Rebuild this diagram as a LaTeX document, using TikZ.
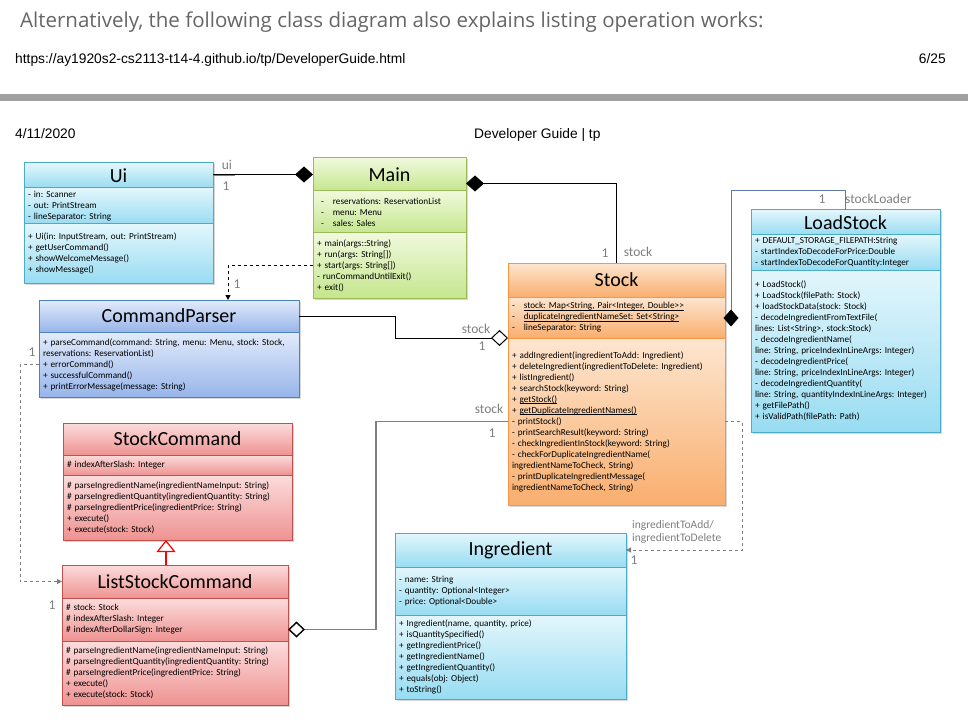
\documentclass[tikz,border=0pt]{standalone}
\usepackage{fontspec}
\setmainfont{Carlito}
\newfontfamily\headfont{Open Sans}
\newfontfamily\pagefont{Liberation Sans}
\usepackage{xcolor}
\usetikzlibrary{arrows.meta,positioning,calc,shadows}
\frenchspacing
\newcommand\uln[1]{\leavevmode\setbox0=\hbox{#1}\rlap{\rule[-1.6pt]{\wd0}{0.5pt}}\box0}

\definecolor{aqualine}{HTML}{4BACC6}
\definecolor{aquatop}{HTML}{E3F6FC}
\definecolor{aquabot}{HTML}{98DCF2}
\definecolor{greenline}{HTML}{9BBB59}
\definecolor{greentop}{HTML}{F0F9DC}
\definecolor{greenbot}{HTML}{C5E68E}
\definecolor{blueline}{HTML}{4F81BD}
\definecolor{bluetop}{HTML}{E2EBFA}
\definecolor{bluebot}{HTML}{97B5EA}
\definecolor{orangeline}{HTML}{F79646}
\definecolor{orangetop}{HTML}{FDE6D0}
\definecolor{orangebot}{HTML}{F9AE6E}
\definecolor{redline}{HTML}{C0504D}
\definecolor{redtop}{HTML}{FCDCDC}
\definecolor{redbot}{HTML}{EE9392}
\definecolor{lblgray}{HTML}{7F7F7F}
\definecolor{headgray}{HTML}{666666}
\definecolor{bargray}{HTML}{A0A0A0}
\definecolor{loaderline}{HTML}{5B7BA6}

\begin{document}
\begin{tikzpicture}[x=1pt, y=-1pt,
    box/.style={draw, rectangle, line width=1pt, outer sep=0pt, anchor=north west, inner xsep=4pt, inner ysep=1pt,
        drop shadow={shadow xshift=1.5pt, shadow yshift=-1.5pt, opacity=0.3}},
    title/.style={box, align=center, font=\fontsize{20}{24}\selectfont},
    body/.style={box, align=left, text width=#1, font=\fontsize{9.2}{11}\selectfont},
    aqua/.style={draw=aqualine, top color=aquatop, bottom color=aquabot},
    lime/.style={draw=greenline, top color=greentop, bottom color=greenbot},
    azure/.style={draw=blueline, top color=bluetop, bottom color=bluebot},
    amber/.style={draw=orangeline, top color=orangetop, bottom color=orangebot},
    rose/.style={draw=redline, top color=redtop, bottom color=redbot},
    compo/.style={{Diamond[color=black,length=18pt,width=16pt]}-, line width=1pt},
    aggr/.style={{Diamond[open,fill=white,color=black,length=17pt,width=16pt]}-, line width=1pt},
    dep/.style={-{Triangle[length=5pt,width=5pt]}, dashed, line width=1pt},
    inherit/.style={-{Triangle[open,fill=white,length=12pt,width=19pt]}, red, line width=1.2pt},
    lbl/.style={text=lblgray, inner sep=0pt, font=\fontsize{13.5}{14}\selectfont},
    page/.style={inner sep=0pt, font=\pagefont\fontsize{13.8}{16}\selectfont}]

    \fill[white] (0,0) rectangle (968,727);
    \useasboundingbox (0,0) rectangle (968,727);

    % Page header
    \node[anchor=base west, inner sep=0pt, text=headgray, font=\headfont\fontsize{20.5}{24}\selectfont] (headline) at (20,28) {Alternatively, the following class diagram also explains listing operation works:};
    \node[page, anchor=base west] (url) at (15,64) {https://ay1920s2-cs2113-t14-4.github.io/tp/DeveloperGuide.html};
    \node[page, anchor=base east] (pageno) at (946,64) {6/25};
    \fill[bargray] (0,94) rectangle (968,101);
    \node[page, anchor=base west] (date) at (15,139) {4/11/2020};
    \node[page, anchor=base west] (doctitle) at (474,139) {Developer Guide | tp};

    % Ui
    \node[title, aqua, minimum width=189, minimum height=25] (uititle) at (24,163) {Ui};
    \node[body=181, aqua, minimum height=36] (uiattr) at (uititle.south west) {- in: Scanner\\- out: PrintStream\\- lineSeparator: String};
    \node[body=181, aqua, minimum height=59] (uimeth) at (uiattr.south west) {+ Ui(in: InputStream, out: PrintStream)\\+ getUserCommand()\\+ showWelcomeMessage()\\+ showMessage()};

    % Main
    \node[title, lime, minimum width=153, minimum height=33] (maintitle) at (313,158) {Main};
    \node[body=145, lime, minimum height=42] (mainattr) at (maintitle.south west) {\hspace*{4pt}-\hspace{9pt}reservations: ReservationList\\\hspace*{4pt}-\hspace{9pt}menu: Menu\\\hspace*{4pt}-\hspace{9pt}sales: Sales};
    \node[body=145, lime, minimum height=65] (mainmeth) at (mainattr.south west) {+ main(args::String)\\+ run(args: String[])\\+ start(args: String[])\\- runCommandUntilExit()\\+ exit()};

    % CommandParser
    \node[title, azure, minimum width=260, minimum height=32] (cptitle) at (39,300) {CommandParser};
    \node[body=252, azure, minimum height=65] (cpmeth) at (cptitle.south west) {+ parseCommand(command: String, menu: Menu, stock: Stock,\\reservations: ReservationList)\\+ errorCommand()\\+ successfulCommand()\\+ printErrorMessage(message: String)};

    % Stock
    \node[title, amber, minimum width=217, minimum height=34] (stocktitle) at (508,263) {Stock};
    \node[body=209, amber, minimum height=41] (stockattr) at (stocktitle.south west) {-\hspace{9pt}\uln{stock: Map<String, Pair<Integer, Double>{}>}\\-\hspace{9pt}\uln{duplicateIngredientNameSet: Set<String>}\\-\hspace{9pt}lineSeparator: String};
    \node[body=209, amber, minimum height=167] (stockmeth) at (stockattr.south west) {+ addIngredient(ingredientToAdd: Ingredient)\\+ deleteIngredient(ingredientToDelete: Ingredient)\\+ listIngredient()\\+ searchStock(keyword: String)\\+ \uln{getStock()}\\+ \uln{getDuplicateIngredientNames()}\\- printStock()\\- printSearchResult(keyword: String)\\- checkIngredientInStock(keyword: String)\\- checkForDuplicateIngredientName(\\ingredientNameToCheck, String)\\- printDuplicateIngredientMessage(\\ingredientNameToCheck, String)};

    % LoadStock
    \node[title, aqua, minimum width=189, minimum height=25] (lstitle) at (751,210) {LoadStock};
    \node[body=181, aqua, minimum height=35] (lsattr) at (lstitle.south west) {+ DEFAULT\_STORAGE\_FILEPATH:String\\- startIndexToDecodeForPrice:Double\\- startIndexToDecodeForQuantity:Integer};
    \node[body=181, aqua, minimum height=162] (lsmeth) at (lsattr.south west) {+ LoadStock()\\+ LoadStock(filePath: Stock)\\+ loadStockData(stock: Stock)\\- decodeIngredientFromTextFile(\\lines: List<String>, stock:Stock)\\- decodeIngredientName(\\line: String, priceIndexInLineArgs: Integer)\\- decodeIngredientPrice(\\line: String, priceIndexInLineArgs: Integer)\\- decodeIngredientQuantity(\\line: String, quantityIndexInLineArgs: Integer)\\+ getFilePath()\\+ isValidPath(filePath: Path)};

    % StockCommand
    \node[title, rose, minimum width=229, minimum height=32] (sctitle) at (63,423) {StockCommand};
    \node[body=221, rose, minimum height=20] (scattr) at (sctitle.south west) {\# indexAfterSlash: Integer};
    \node[body=221, rose, minimum height=65] (scmeth) at (scattr.south west) {\# parseIngredientName(ingredientNameInput: String)\\\# parseIngredientQuantity(ingredientQuantity: String)\\\# parseIngredientPrice(ingredientPrice: String)\\+ execute()\\+ execute(stock: Stock)};

    % ListStockCommand
    \node[title, rose, minimum width=226, minimum height=33] (lsctitle) at (62,565) {ListStockCommand};
    \node[body=218, rose, minimum height=43] (lscattr) at (lsctitle.south west) {\# stock: Stock\\\# indexAfterSlash: Integer\\\# indexAfterDollarSign: Integer};
    \node[body=218, rose, minimum height=64] (lscmeth) at (lscattr.south west) {\# parseIngredientName(ingredientNameInput: String)\\\# parseIngredientQuantity(ingredientQuantity: String)\\\# parseIngredientPrice(ingredientPrice: String)\\+ execute()\\+ execute(stock: Stock)};

    % Ingredient
    \node[title, aqua, minimum width=231, minimum height=34] (ingtitle) at (395,533) {Ingredient};
    \node[body=223, aqua, minimum height=48] (ingattr) at (ingtitle.south west) {- name: String\\- quantity: Optional<Integer>\\- price: Optional<Double>};
    \node[body=223, aqua, minimum height=84] (ingmeth) at (ingattr.south west) {+ Ingredient(name, quantity, price)\\+ isQuantitySpecified()\\+ getIngredientPrice()\\+ getIngredientName()\\+ getIngredientQuantity()\\+ equals(obj: Object)\\+ toString()};

    % Connectors
    \draw[compo] (maintitle.west) -- (maintitle.west -| uititle.east);
    \draw[lblgray, line width=1pt] (uititle.east) -- ++(22,0);
    \draw[compo] ([yshift=-9pt]maintitle.east) -| (stocktitle.north);
    \draw[dep] (mainmeth.west) -| ([xshift=59pt]cptitle.north);
    \draw[aggr] (stockattr.south west) -- ++(-113,0) |- (cptitle.east);
    \draw[aggr, lblgray, line width=1.4pt] ([yshift=-10pt]lscattr.east) -- ++(88,0) |- (stockmeth.west);
    \draw[compo, loaderline, {Diamond[color=black,length=17pt,width=15pt]}-] ([xshift=6pt,yshift=-9pt]stockattr.east) |- ([yshift=19pt]lstitle.north) -- (lstitle.north);
    \draw[dep, lblgray] (stockmeth.east) -- ++(17,0) |- (ingtitle.east);
    \draw[dep, lblgray] (cpmeth.west) -- ++(-19,0) |- (lsctitle.west);
    \draw[inherit] ([xshift=-9pt]lsctitle.north) -- ++(0,-25);

    % Role names and multiplicities
    \node[lbl] (uirole) at (227,165) {ui};
    \node[lbl] (uimult) at (226,186) {1};
    \node[lbl] (mainstockmult) at (605,253) {1};
    \node[lbl] (mainstockrole) at (638,252) {stock};
    \node[lbl] (cpmult) at (237,284) {1};
    \node[lbl] (cpstockrole) at (476,329) {stock};
    \node[lbl] (cpstockmult) at (482,346) {1};
    \node[lbl] (lscstockrole) at (489,409) {stock};
    \node[lbl] (lscstockmult) at (492,433) {1};
    \node[lbl] (loadermult) at (822,199) {1};
    \node[lbl, anchor=west] (loaderrole) at (845,199) {stockLoader};
    \node[lbl] (lscmultcp) at (32,352) {1};
    \node[lbl] (lscmult) at (52,605) {1};
    \node[lbl, anchor=west, align=left, font=\fontsize{11.5}{13}\selectfont] (ingrole) at (632,532) {ingredientToAdd/\\ingredientToDelete};
    \node[lbl] (ingmult) at (634,560) {1};

\end{tikzpicture}
\end{document}
